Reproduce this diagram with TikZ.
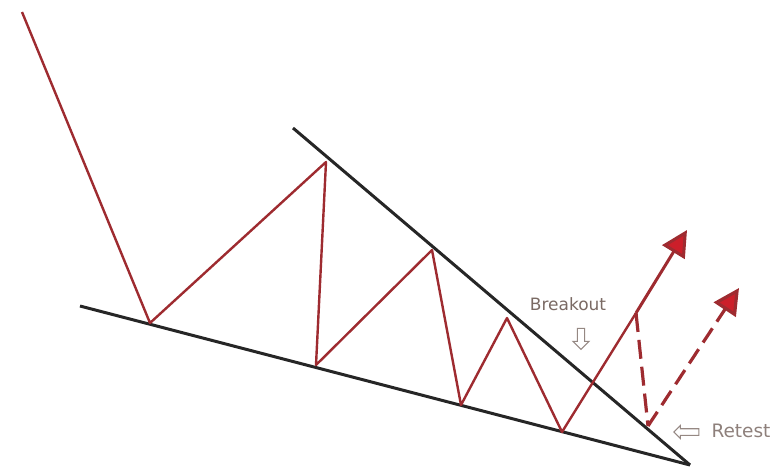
\documentclass[tikz,border=0pt]{standalone}
\usepackage{fontspec}
\newfontfamily\notefont{DejaVu Sans}
\definecolor{PatRed}{HTML}{9E2B30}
\definecolor{TipRed}{HTML}{CC1F2A}
\definecolor{NoteGray}{HTML}{7A6A64}
\usetikzlibrary{arrows.meta,positioning,shapes.arrows}

\begin{document}
\begin{tikzpicture}[x=1pt,y=-1pt,>={Triangle[length=26pt,width=26pt]}]
  \useasboundingbox (0,0) rectangle (778,475);
  % trend lines
  \coordinate (lowA) at (80,306);
  \coordinate (upA) at (293,128);
  \coordinate (apex) at (690,465);
  \draw[line width=3pt,black!85] (lowA)--(apex);
  \draw[line width=3pt,black!85] (upA)--(apex);
  % price swings
  \coordinate (p0) at (22,12);
  \coordinate (p1) at (150,323);
  \coordinate (p2) at (326,162);
  \coordinate (p3) at (316,365);
  \coordinate (p4) at (432,250);
  \coordinate (p5) at (461,405);
  \coordinate (p6) at (507,318);
  \coordinate (p7) at (562,432);
  \coordinate (p8) at (636,313);
  \coordinate (top) at (687,230);
  \coordinate (p9) at (648,426);
  \coordinate (top2) at (739,288);
  \draw[line width=2.4pt,PatRed,line join=round] (p0)--(p1)--(p2)--(p3)--(p4)--(p5)--(p6)--(p7)--(p8);
  \draw[line width=3pt,PatRed,arrows={->[fill=TipRed]}] (p8)--(top);
  \draw[line width=3.2pt,PatRed,dash pattern=on 19pt off 8pt] (p8)--(p9);
  \draw[line width=3.2pt,PatRed,dash pattern=on 17pt off 8pt,arrows={->[fill=TipRed]}] (p9)--(top2);
  % labels
  \node[font=\notefont\fontsize{17}{19}\selectfont,text=NoteGray] (brk) at (568,304) {Breakout};
  \node[single arrow,draw=NoteGray!80,line width=1.1pt,shape border rotate=270,minimum height=21pt,minimum width=16pt,single arrow head extend=2.5pt,inner sep=1.5pt] (brkarrow) at (581,337) {};
  \node[font=\notefont\fontsize{18.5}{20}\selectfont,text=NoteGray!85] (rtst) at (741,431) {Retest};
  \node[single arrow,draw=NoteGray!80,line width=1.1pt,shape border rotate=180,minimum height=25pt,minimum width=13pt,single arrow head extend=2pt,inner sep=1.5pt] (rtstarrow) at (688,432) {};
\end{tikzpicture}
\end{document}
